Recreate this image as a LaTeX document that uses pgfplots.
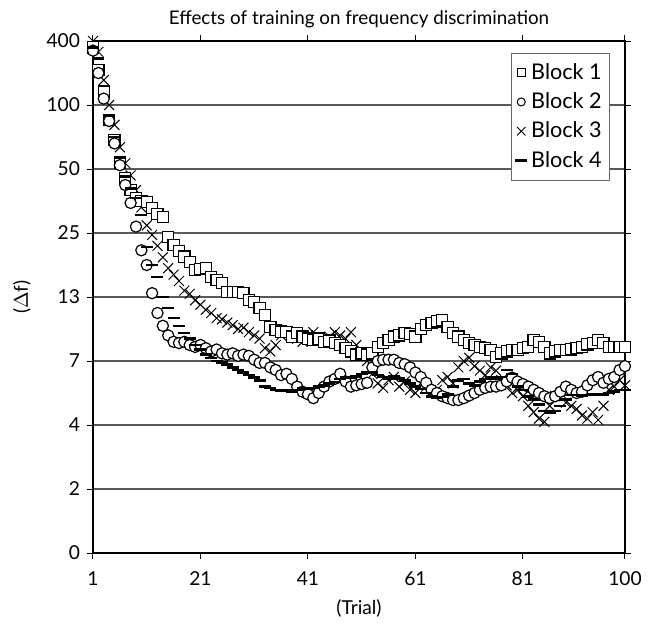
\documentclass[border=0pt]{standalone}
\usepackage{fontspec}
\setmainfont{Lato}
\usepackage{pgfplots}
\usepackage{pgfplotstable}
\pgfplotsset{compat=1.18}

% level units: 0..8 stand for 0,2,4,7,13,25,50,100,400
\pgfplotstableread{
t b1 b2 b3 b4
1 7.9 7.85 8.0 7.9
2 7.55 7.5 7.83 7.73
3 7.2 7.1 7.39 7.3
4 6.77 6.75 7.0 6.84
5 6.45 6.4 6.69 6.5
6 6.1 6.06 6.34 6.17
7 5.86 5.75 6.09 5.88
8 5.67 5.47 5.9 5.7
9 5.55 5.1 5.67 5.55
10 5.5 4.73 5.4 5.28
11 5.48 4.5 5.12 4.78
12 5.39 4.06 4.97 4.5
13 5.3 3.75 4.8 4.31
14 5.25 3.55 4.62 4.0
15 4.94 3.4 4.45 3.83
16 4.81 3.3 4.35 3.67
17 4.72 3.28 4.25 3.55
18 4.63 3.3 4.1 3.44
19 4.55 3.25 4.05 3.35
20 4.42 3.22 3.95 3.25
21 4.44 3.25 3.88 3.18
22 4.45 3.2 3.8 3.1
23 4.31 3.15 3.75 3.05
24 4.27 3.18 3.67 3.0
25 4.22 3.12 3.65 2.98
26 4.08 3.1 3.6 2.95
27 4.08 3.12 3.56 2.9
28 4.08 3.08 3.5 2.86
29 4.06 3.1 3.52 2.82
30 3.95 3.08 3.45 2.78
31 3.92 3.02 3.4 2.74
32 3.83 2.97 3.35 2.7
33 3.72 2.97 3.2 2.6
34 3.53 2.9 3.15 2.58
35 3.48 2.86 3.25 2.55
36 3.46 2.78 3.4 2.53
37 3.45 2.8 3.45 2.55
38 3.38 2.72 3.42 2.52
39 3.44 2.6 3.35 2.55
40 3.38 2.52 3.3 2.57
41 3.35 2.48 3.4 2.56
42 3.33 2.42 3.45 2.58
43 3.35 2.5 3.35 2.6
44 3.3 2.6 3.3 2.62
45 3.32 2.68 3.38 2.65
46 3.28 2.72 3.45 2.67
47 3.25 2.8 3.4 2.72
48 3.2 2.68 3.35 2.75
49 3.15 2.6 3.45 2.74
50 3.1 2.62 3.25 2.76
51 3.12 2.64 3.1 2.8
52 3.1 2.66 3.0 2.83
53 3.12 2.9 2.8 2.82
54 3.22 3.0 2.65 2.78
55 3.28 3.02 2.58 2.75
56 3.33 3.02 2.7 2.72
57 3.38 3.02 2.75 2.76
58 3.4 2.97 2.6 2.73
59 3.44 2.95 2.68 2.7
60 3.42 2.9 2.55 2.65
61 3.38 2.82 2.5 2.6
62 3.5 2.75 2.65 2.56
63 3.56 2.66 2.6 2.5
64 3.59 2.55 2.5 2.45
65 3.62 2.5 2.55 2.43
66 3.64 2.45 2.7 2.44
67 3.53 2.42 2.75 2.48
68 3.44 2.39 2.65 2.6
69 3.38 2.39 2.9 2.7
70 3.33 2.42 3.0 2.72
71 3.28 2.46 3.05 2.65
72 3.25 2.5 2.92 2.62
73 3.22 2.55 2.85 2.68
74 3.2 2.58 2.78 2.72
75 3.17 2.6 2.9 2.75
76 3.06 2.6 2.85 2.73
77 3.12 2.62 2.7 2.75
78 3.15 2.68 2.62 2.86
79 3.17 2.74 2.5 2.8
80 3.17 2.68 2.55 2.6
81 3.2 2.64 2.45 2.55
82 3.22 2.6 2.3 2.45
83 3.33 2.55 2.2 2.4
84 3.3 2.5 2.1 2.32
85 3.22 2.45 2.05 2.22
86 3.12 2.42 2.3 2.2
87 3.15 2.45 2.45 2.22
88 3.17 2.52 2.5 2.3
89 3.17 2.6 2.35 2.4
90 3.18 2.55 2.3 2.47
91 3.2 2.5 2.25 2.47
92 3.22 2.52 2.15 2.46
93 3.26 2.62 2.1 2.47
94 3.28 2.7 2.2 2.48
95 3.33 2.75 2.08 2.47
96 3.28 2.66 2.3 2.48
97 3.22 2.72 2.55 2.5
98 3.22 2.75 2.6 2.52
99 3.22 2.86 2.7 2.55
100 3.22 2.92 2.62 2.55
}\trials

\begin{document}
\begin{tikzpicture}
\begin{axis}[
    name=ax, at={(0,0)}, anchor=south west,
    scale only axis,
    width=266pt, height=256pt,
    xmin=1, xmax=100, ymin=0, ymax=8,
    xtick={1,21,41,61,81,100},
    xticklabels={1,21,41,61,81,100},
    ytick={0,1,2,3,4,5,6,7,8},
    yticklabels={0,2,4,7,13,25,50,100,400},
    tick align=outside,
    major tick length=3pt,
    tick style={black, line width=0.5pt},
    axis line style={black, line width=0.6pt},
    ymajorgrids=true,
    grid style={black!65, line width=0.6pt},
    ticklabel style={font=\fontsize{9.6}{10}\selectfont},
    xticklabel style={yshift=-3pt},
    title={Effects of training on frequency discrimination},
    title style={font=\fontsize{9.4}{10}\selectfont, yshift=-3pt},
    xlabel={(Trial)},
    ylabel={($\Delta$f)},
    xlabel style={font=\fontsize{9.6}{10}\selectfont, yshift=0pt},
    ylabel style={font=\fontsize{9.6}{10}\selectfont, yshift=1pt},
    clip=false,
    legend cell align=left,
    legend style={at={(0.972,0.977)}, anchor=north east, draw=black!60,
        font=\fontsize{10.8}{12}\selectfont, row sep=1.2pt,
        inner xsep=2pt, inner ysep=3pt},
]
\addlegendimage{only marks, mark=square*, mark size=2pt, mark options={fill=white, draw=black, line width=0.5pt}}
\addlegendentry{Block 1}
\addlegendimage{only marks, mark=o, mark size=2pt, mark options={draw=black, line width=0.5pt}}
\addlegendentry{Block 2}
\addlegendimage{only marks, mark=x, mark size=3pt, mark options={draw=black, line width=0.5pt}}
\addlegendentry{Block 3}
\addlegendimage{only marks, mark=-, mark size=3pt, mark options={draw=black, line width=1.2pt}}
\addlegendentry{Block 4}

\addplot[forget plot, only marks, mark=x, mark size=3.5pt,
    mark options={draw=black, line width=0.5pt}] table[x=t, y=b3] {\trials};
\addplot[forget plot, only marks, mark=square*, mark size=2.8pt,
    mark options={fill=white, draw=black, line width=0.6pt}] table[x=t, y=b1] {\trials};
\addplot[forget plot, only marks, mark=*, mark size=2.8pt,
    mark options={fill=white, draw=black, line width=0.6pt}] table[x=t, y=b2] {\trials};
\addplot[forget plot, only marks, mark=-, mark size=3pt,
    mark options={draw=black, line width=1.3pt}] table[x=t, y=b4] {\trials};
\end{axis}
\pgfresetboundingbox
\path (-46.5pt,-35pt) rectangle (278pt,276.5pt);
\end{tikzpicture}
\end{document}
